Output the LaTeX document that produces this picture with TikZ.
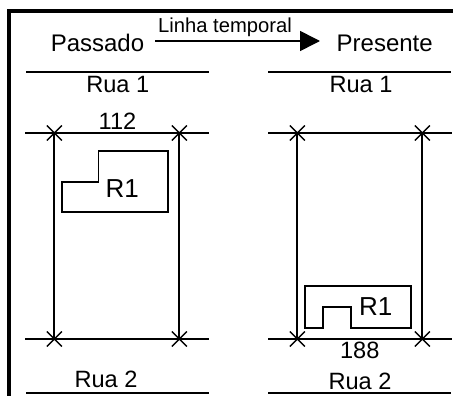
\documentclass[tikz,border=0pt]{standalone}
\usepackage{fontspec}
\setmainfont{Liberation Sans}
\usetikzlibrary{shapes.misc,arrows.meta}
\tikzset{
  big/.style={anchor=base,inner sep=0pt,font=\fontsize{24}{26}\selectfont},
  plotlabel/.style={anchor=base,inner sep=0pt,font=\fontsize{26}{28}\selectfont},
  mid/.style={anchor=base,inner sep=0pt,font=\fontsize{23.6}{26}\selectfont},
  small/.style={anchor=base,inner sep=0pt,font=\fontsize{20.2}{24}\selectfont},
  frameline/.style={line width=3.6pt,black},
  street/.style={line width=1.6pt,black},
  lot/.style={line width=1.9pt,black},
  boundary/.style={line width=2.2pt,black},
  plot/.style={line width=1.7pt,black},
  mk/.style={cross out,draw=black,line width=1.4pt,minimum size=15pt,inner sep=0pt,outer sep=0pt}
}
\begin{document}
\begin{tikzpicture}[x=1pt,y=-1pt]
\useasboundingbox (0,0) rectangle (453,396);
\fill[white] (0,0) rectangle (453,396);
% frame
\coordinate (f1) at (8.7,396);
\coordinate (f2) at (8.7,11);
\coordinate (f3) at (453,11);
\draw[frameline,line join=miter] (f1) -- (f2) -- (f3);
% headings
\node[big] (passado) at (97.5,52) {Passado};
\node[big] (presente) at (384.7,52) {Presente};
\node[small] (linha) at (225,33) {Linha temporal};
\coordinate (a1) at (155,41);
\coordinate (a2) at (320,41);
\draw[street,-{Triangle[length=20pt,width=20pt]}] (a1) -- (a2);
% left street lines
\coordinate (l1a) at (26,72); \coordinate (l1b) at (209,72);
\coordinate (l2a) at (25,133); \coordinate (l2b) at (209,133);
\coordinate (l3a) at (25,339); \coordinate (l3b) at (209,339);
\coordinate (l4a) at (26,393); \coordinate (l4b) at (209,393);
\draw[street] (l1a) -- (l1b);
\draw[street] (l2a) -- (l2b);
\draw[boundary] (l3a) -- (l3b);
\draw[street] (l4a) -- (l4b);
% right street lines
\coordinate (r1a) at (268,72); \coordinate (r1b) at (451,72);
\coordinate (r2a) at (268,133); \coordinate (r2b) at (452,133);
\coordinate (r3a) at (268,339); \coordinate (r3b) at (452,339);
\coordinate (r4a) at (268,393); \coordinate (r4b) at (451,393);
\draw[street] (r1a) -- (r1b);
\draw[street] (r2a) -- (r2b);
\draw[boundary] (r3a) -- (r3b);
\draw[street] (r4a) -- (r4b);
% crosses
\node[mk] (la) at (54.3,133) {};
\node[mk] (lb) at (179.3,133) {};
\node[mk] (lc) at (54.3,339) {};
\node[mk] (ld) at (179.3,339) {};
\node[mk] (ra) at (297.3,133) {};
\node[mk] (rb) at (422.3,133) {};
\node[mk] (rc) at (297.3,339) {};
\node[mk] (rd) at (422.3,339) {};
\draw[lot] (la.center) -- (lc.center);
\draw[lot] (lb.center) -- (ld.center);
\draw[lot] (ra.center) -- (rc.center);
\draw[lot] (rb.center) -- (rd.center);
% plots
\draw[plot] (98.5,151) -- (168,151) -- (168,212) -- (62,212) -- (62,182) -- (98.5,182) -- cycle;
\draw[plot] (304.7,285.7) -- (411,285.7) -- (411,327.7) -- (351,327.7) -- (351,306.7) -- (322.7,306.7) -- (322.7,327.7) -- (304.7,327.7) -- cycle;
% labels
\node[mid] (rua1l) at (117.8,93) {Rua 1};
\node[mid] (rua1r) at (361,93) {Rua 1};
\node[mid] (rua2l) at (106,387.7) {Rua 2};
\node[mid] (rua2r) at (360,389) {Rua 2};
\node[mid] (n112) at (117.5,129) {112};
\node[mid] (n188) at (359.8,358.7) {188};
\node[plotlabel] (r1l) at (122.3,197) {R1};
\node[plotlabel] (r1r) at (375.7,315.7) {R1};
\end{tikzpicture}
\end{document}
